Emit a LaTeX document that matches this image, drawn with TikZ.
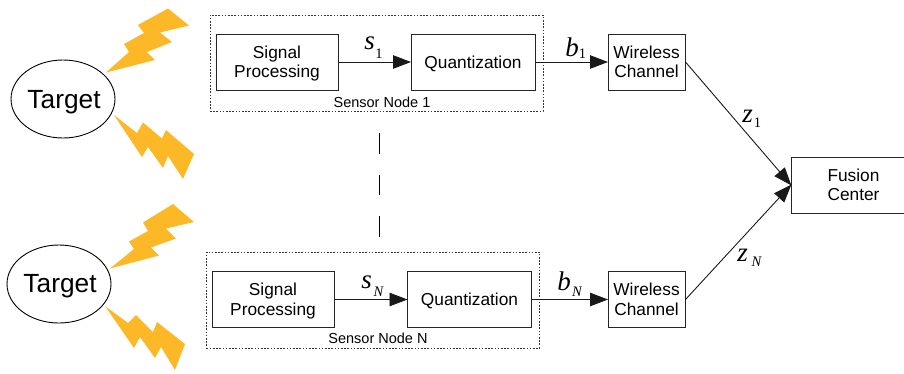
\documentclass[tikz,border=0pt]{standalone}
\usepackage{fontspec}
\setmainfont{Liberation Sans}
\newfontfamily\lblfont{Liberation Serif}
\usetikzlibrary{arrows.meta,shapes.geometric}
\definecolor{bolt}{HTML}{FDB827}
\newcommand{\twolines}[2]{\smash{\raisebox{3.8pt}{\begin{tabular}[t]{@{}c@{}}#1\\#2\end{tabular}}}}
\newcommand{\oneline}[2]{\smash{\raisebox{#1}{#2}}}
\newcommand{\targettext}[1]{\makebox[0pt]{\hspace{2pt}\oneline{#1}{Target}}}
\tikzset{
  blockbox/.style={draw=black!85,line width=1pt,minimum width=#1,inner sep=0pt,font=\fontsize{17.3}{19.3}\selectfont,minimum height=56pt},
  groupbox/.style={draw=black!80,line width=0.9pt,dash pattern=on 1.6pt off 1.6pt,inner sep=0pt},
  targetnode/.style={draw=black,line width=0.9pt,ellipse,minimum width=104pt,minimum height=78pt,inner sep=0pt,font=\fontsize{26.3}{28}\selectfont},
  conn/.style={draw=black!90,line width=0.9pt,-{Triangle[length=18pt,width=13.5pt]},shorten >=-0.5pt},
  bolt shape/.style={fill=bolt,draw=none},
  lbl/.style={font=\lblfont\fontsize{27}{28}\selectfont\itshape,inner sep=0pt},
  subnum/.style={font=\lblfont\fontsize{14.5}{16}\selectfont,inner sep=0pt},
  subname/.style={font=\lblfont\fontsize{14.5}{16}\selectfont\itshape,inner sep=0pt},
  caption/.style={font=\fontsize{14.5}{16}\selectfont,inner sep=0pt},
}
\begin{document}
\begin{tikzpicture}[x=1pt,y=-1pt]
\useasboundingbox (0,0) rectangle (904,373);
% targets
\node[targetnode] (t1) at (63,99) {\targettext{-9pt}};
\node[targetnode] (t2) at (59,284) {\targettext{-8.5pt}};
% bolts
\path[bolt shape] (106,72.5) -- (129,52) -- (124,44) -- (144,33) -- (138,25) -- (168,8.5) -- (189,25.5) -- (160,32.5) -- (172,42) -- (147,52) -- (155,60) -- cycle;
\path[bolt shape] (114,115) -- (137,133) -- (143,122.5) -- (162,138.5) -- (166,130) -- (194,154) -- (183,179) -- (168,156) -- (163,168) -- (148,147) -- (142,157) -- cycle;
\path[bolt shape] (110,268.5) -- (134,249) -- (129,241.5) -- (148,231) -- (143,222.5) -- (173,204) -- (194,222) -- (166,228.5) -- (176,238.5) -- (151,247.5) -- (159,255.5) -- cycle;
\path[bolt shape] (105,306) -- (128,323) -- (136,315) -- (153,332) -- (157,322) -- (185,344) -- (175,370) -- (161,347) -- (155,358) -- (140,337) -- (134,348) -- cycle;
% group boxes
\node[groupbox,minimum width=333pt,minimum height=96pt] (g1) at (376.5,63) {};
\node[groupbox,minimum width=333pt,minimum height=96pt] (g2) at (373,300) {};
\node[caption] (c1) at (382,102) {Sensor Node 1};
\node[caption] (c2) at (378,338) {Sensor Node N};
% blocks
\node[blockbox=122pt] (sp1) at (277,62) {\twolines{Signal}{Processing}};
\node[blockbox=124pt] (q1) at (473,62) {\oneline{-6.3pt}{Quantization}};
\node[blockbox=77pt] (w1) at (646.5,62) {\twolines{Wireless}{Channel}};
\node[blockbox=122pt] (sp2) at (273,299.5) {\twolines{Signal}{Processing}};
\node[blockbox=124pt] (q2) at (469.5,299.5) {\oneline{-6.3pt}{Quantization}};
\node[blockbox=77pt] (w2) at (646.5,299.5) {\twolines{Wireless}{Channel}};
\node[blockbox=124pt] (fc) at (853.5,185) {\twolines{Fusion}{Center}};
% connectors
\draw[conn] (sp1) -- (q1);
\draw[conn] (q1) -- (w1);
\draw[conn] (sp2) -- (q2);
\draw[conn] (q2) -- (w2);
\coordinate (fcin) at (fc.west);
\draw[conn] (w1.east) -- (fcin);
\draw[conn] (w2.east) -- (fcin);
% dash line
\coordinate (da) at (379,133);
\coordinate (db) at (379,236.5);
\draw[black,line width=1pt,dash pattern=on 20.5pt off 21pt] (da) -- (db);
% labels
\node[lbl] (ls1) at (369.5,43.5) {s}; \node[subnum] (ln1) at (379,54) {1};
\node[lbl] (lb1) at (572,47) {b}; \node[subnum] (ln2) at (582.5,54) {1};
\node[lbl] (lz1) at (747.5,116) {z}; \node[subnum] (ln3) at (757.5,123) {1};
\node[lbl] (ls2) at (366.5,282.5) {s}; \node[subname] (ln4) at (378.5,292) {N};
\node[lbl] (lb2) at (564,281) {b}; \node[subname] (ln5) at (577,292) {N};
\node[lbl] (lz2) at (742.5,255.5) {z}; \node[subname] (ln6) at (756.5,262) {N};
\end{tikzpicture}
\end{document}
